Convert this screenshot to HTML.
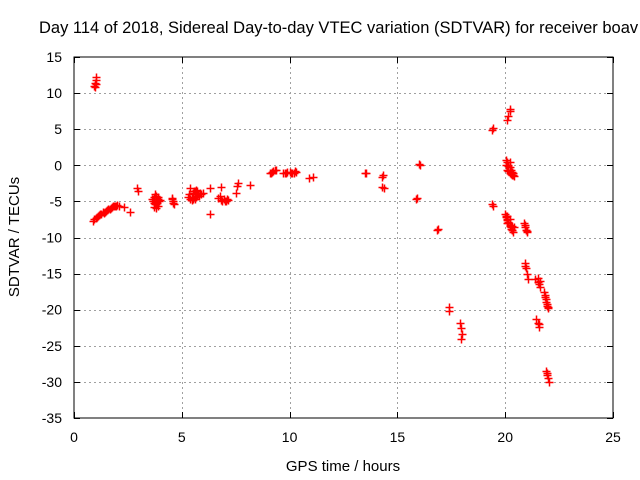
<!DOCTYPE html>
<html><head><meta charset="utf-8"><style>
body{margin:0;background:#fff;}
svg{display:block;font-family:"Liberation Sans",sans-serif;}
</style></head><body>
<svg id="chart" width="640" height="480">
<text x="39" y="33" font-size="16.5" fill="#000">Day 114 of 2018, Sidereal Day-to-day VTEC variation (SDTVAR) for receiver boav</text>
<text x="343" y="471" font-size="15" text-anchor="middle">GPS time / hours</text>
<text transform="translate(19,237) rotate(-90)" font-size="15" text-anchor="middle">SDTVAR / TECUs</text>
<g id="grid"></g>
<g id="ticks"></g>
<g id="marks"></g>
<rect x="74" y="57" width="539" height="361" fill="none" stroke="#000" stroke-width="1"/>
</svg>
<script>
const xTicks=[0,5,10,15,20,25];
const yTicks=[15,10,5,0,-5,-10,-15,-20,-25,-30,-35];
const hours=[0.95,0.97,1.0,1.02,0.98,1.0,
0.9,1.0,1.1,1.2,1.4,1.5,1.6,1.7,1.8,1.9,2.0,2.1,2.3,2.6,
2.9,2.95,3.6,3.7,3.8,3.9,4.0,3.75,3.85,4.55,4.6,4.65,
5.3,5.4,5.5,5.6,5.7,5.8,5.9,6.0,5.45,5.65,6.3,6.3,6.8,6.75,6.8,7.0,7.1,7.5,7.55,7.6,8.15,
9.1,9.2,9.3,9.7,9.85,10.0,10.2,10.3,10.9,11.1,
13.5,13.55,14.3,14.35,14.3,14.4,15.85,15.9,16.0,16.05,16.85,16.9,17.4,17.4,
17.9,17.95,18.0,17.95,19.4,19.45,19.4,19.45,
20.05,20.1,20.15,20.2,20.1,20.15,20.2,20.25,20.3,20.35,20.4,
20.0,20.05,20.1,20.15,20.2,20.25,20.3,20.35,20.4,20.1,20.2,
20.85,20.9,20.95,21.0,20.9,20.95,21.0,21.05,21.4,21.5,21.55,21.6,
21.8,21.85,21.9,21.95,22.0,21.45,21.5,21.55,21.9,21.95,22.0,22.05,
20.1,20.15,20.2,20.05,
0.95,1.05,1.15,1.25,1.35,1.45,1.55,1.65,1.75,1.85,1.95,
3.65,3.7,3.75,3.8,3.85,3.9,3.95,3.7,3.8,3.9,4.55,4.6,
5.35,5.45,5.55,5.65,5.75,5.85,5.5,5.6,5.7,5.4,
6.7,6.85,6.95,7.05,7.15,9.15,9.25,9.35,9.8,9.9,10.05,10.1,10.25,
20.05,20.1,20.15,20.2,20.25,20.3,20.1,20.2,20.3,20.15,20.25,20.35,20.2,20.3,
20.9,20.95,21.0,20.9,21.5,21.6,21.55,21.85,21.9,21.95,22.0,21.95];
const values=[11.0,11.4,11.8,12.2,10.9,11.2,
-7.7,-7.3,-7.0,-6.8,-6.6,-6.3,-6.1,-5.9,-5.7,-5.6,-5.5,-5.6,-5.8,-6.4,
-3.2,-3.6,-4.6,-5.2,-4.2,-5.6,-4.8,-4.0,-5.0,-4.5,-5.0,-5.4,
-4.4,-3.2,-3.8,-4.6,-3.6,-4.2,-4.0,-3.8,-4.8,-3.4,-3.2,-6.8,-3.0,-4.3,-4.8,-5.0,-4.7,-3.9,-2.9,-2.4,-2.7,
-1.0,-0.9,-0.6,-1.1,-1.0,-0.9,-1.0,-0.9,-1.7,-1.6,
-1.0,-1.1,-1.6,-1.4,-3.0,-3.1,-4.7,-4.5,0.2,0.1,-9.0,-8.8,-19.6,-20.2,
-21.8,-22.6,-23.3,-24.0,4.9,5.2,-5.3,-5.7,
0.8,0.4,0.0,-0.3,-0.6,-0.8,-1.0,-1.2,-0.9,-1.3,-1.5,
-6.8,-7.2,-7.6,-8.0,-8.4,-8.8,-9.0,-9.2,-8.6,-7.0,7.5,
-8.0,-8.6,-9.0,-9.3,-13.5,-14.2,-15.0,-15.8,-15.8,-16.2,-16.5,-16.9,
-17.5,-18.2,-18.9,-19.5,-19.8,-21.3,-21.8,-22.4,-28.5,-29.0,-29.5,-30.0,
6.3,6.8,7.8,0.0,
-7.4,-7.1,-6.9,-6.7,-6.5,-6.4,-6.2,-6.0,-5.8,-5.7,-5.6,
-4.9,-4.4,-5.4,-4.6,-5.2,-4.4,-5.0,-5.8,-5.9,-4.6,-4.7,-5.2,
-4.0,-4.5,-3.5,-4.4,-4.0,-3.9,-4.6,-3.6,-4.3,-4.7,
-4.5,-4.9,-4.6,-4.9,-4.8,-1.1,-0.8,-0.7,-1.0,-0.9,-1.1,-1.0,-0.8,
-7.0,-7.4,-7.8,-8.2,-8.6,-9.0,-8.0,-7.5,-8.4,-0.1,-0.6,-1.0,0.5,-1.3,
-8.3,-8.9,-9.1,-14.0,-15.6,-16.0,-22.0,-18.0,-18.5,-19.2,-19.6,-28.8];
const X0=74,X1=613,Y0=57,Y1=418;
const xs=h=>X0+(h-0)/(25-0)*(X1-X0);
const ys=v=>Y0+(15-v)/(15-(-35))*(Y1-Y0);
const NS='http://www.w3.org/2000/svg';
const grid=document.getElementById('grid'),ticks=document.getElementById('ticks'),marks=document.getElementById('marks');
function mk(tag,attrs,parent){const e=document.createElementNS(NS,tag);for(const k in attrs)e.setAttribute(k,attrs[k]);parent.appendChild(e);return e;}
xTicks.forEach(t=>{const x=Math.round(xs(t))+0.5;
 if(t>0&&t<25){const g=mk('line',{x1:x,x2:x,y1:Y0,y2:Y1,stroke:'#a0a0a0','stroke-dasharray':'2,3'},grid);
 
 }
 mk('line',{x1:x,x2:x,y1:Y1,y2:Y1-6,stroke:'#000'},ticks);mk('line',{x1:x,x2:x,y1:Y0,y2:Y0+6,stroke:'#000'},ticks);
 const l=mk('text',{x:xs(t),y:Y1+24,'font-size':14,'text-anchor':'middle'},ticks);l.textContent=t;
 
 });
yTicks.forEach(t=>{const y=Math.round(ys(t))+0.5;
 if(t<15&&t>-35){const g=mk('line',{x1:X0,x2:X1,y1:y,y2:y,stroke:'#a0a0a0','stroke-dasharray':'2,3'},grid);
 
 }
 mk('line',{x1:X0,x2:X0+6,y1:y,y2:y,stroke:'#000'},ticks);mk('line',{x1:X1,x2:X1-6,y1:y,y2:y,stroke:'#000'},ticks);
 const l=mk('text',{x:X0-12,y:ys(t)+5,'font-size':14,'text-anchor':'end'},ticks);l.textContent=t;
 
 });
hours.forEach((h,i)=>{const x=Math.round(xs(h))+0.5,y=Math.round(ys(values[i]))+0.5;
 const p=mk('path',{d:`M${x-4} ${y}H${x+4}M${x} ${y-4}V${y+4}`,stroke:'#ff0000','stroke-width':1.5},marks);
 
 });
</script>
</body></html>
